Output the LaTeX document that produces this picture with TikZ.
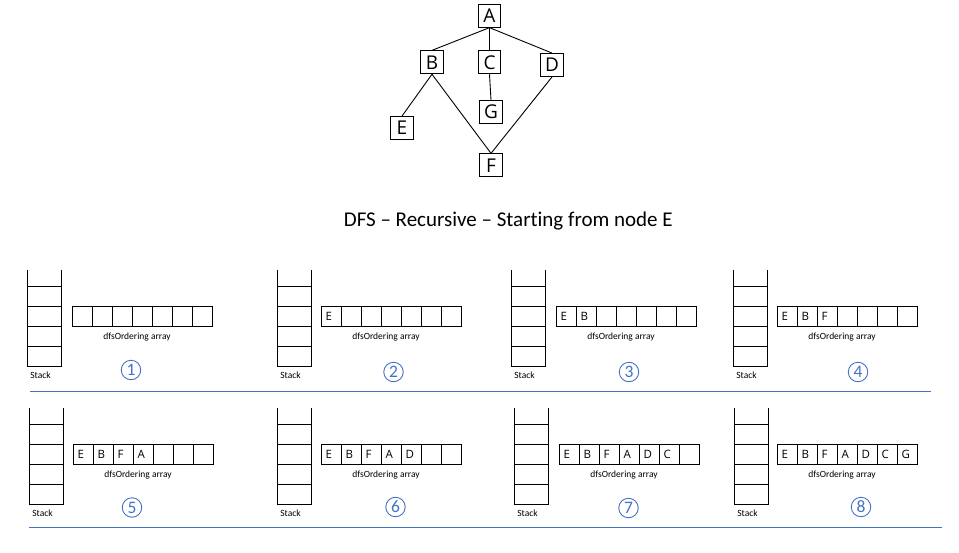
\documentclass[tikz,border=0pt]{standalone}
\usepackage{fontspec}
\setmainfont{Carlito}[Ligatures=NoCommon]
\newfontfamily\lettfont{Open Sans}
\definecolor{numblue}{HTML}{4472C4}
\tikzset{
  thinline/.style={draw=black,line width=0.9pt},
  gnode/.style={draw=black,line width=0.9pt,minimum width=22.5pt,minimum height=23pt,inner sep=0pt,font=\lettfont\fontsize{19}{22}\selectfont},
  gedge/.style={draw=black,line width=0.9pt},
  cellletter/.style={anchor=west,inner sep=0pt,font=\lettfont\fontsize{11.5}{13}\selectfont},
  arrlabel/.style={inner sep=0pt,font=\fontsize{9.5}{11}\selectfont},
  stacklabel/.style={inner sep=0pt,font=\fontsize{9.5}{11}\selectfont},
  circnum/.style={circle,draw=numblue,line width=0.9pt,minimum size=19.5pt,inner sep=0pt,text=numblue,font=\fontsize{17.5}{20}\selectfont},
  sepline/.style={draw=numblue,line width=1pt},
}
% #1 id, #2 stack x, #3 top y, #4 array x, #5 entries, #6 number, #7 cx, #8 cy
\newcommand\dfspanel[8]{%
  \draw[thinline] (#2,#3) -- (#2,#3+96.5) -- (#2+34,#3+96.5) -- (#2+34,#3);
  \foreach \h in {16.5,36,56,76.5} \draw[thinline] (#2,#3+\h) -- (#2+34,#3+\h);
  \foreach \i in {0,...,6} \draw[thinline] (#4+20*\i,#3+36) rectangle +(20,20.5);
  \foreach \e [count=\k from 0] in {#5} \node[cellletter] (v#1-\k) at (#4+20*\k+4.5,#3+46) {\e};
  \node[arrlabel] (arr#1) at (#4+65,#3+67) {dfsOrdering array};
  \node[stacklabel] (stk#1) at (#2+13.5,#3+105) {Stack};
  \node[circnum] (num#1) at (#7,#8) {#6};
}
\begin{document}
\begin{tikzpicture}[x=1pt,y=-1pt]
\useasboundingbox (0,0) rectangle (959,552);
% graph
\node[gnode] (A) at (489.5,15.7) {A};
\node[gnode] (B) at (432,62.3) {B};
\node[gnode] (C) at (489.5,62.3) {C};
\node[gnode] (D) at (552,65) {D};
\node[gnode] (G) at (491,112) {G};
\node[gnode] (E) at (402,128) {E};
\node[gnode] (F) at (491,165.3) {F};
\draw[gedge] (A.south) -- (B.north);
\draw[gedge] (A.south) -- (C.north);
\draw[gedge] (A.south) -- (D.north);
\draw[gedge] (C.south) -- (G.north);
\draw[gedge] (B.south) -- (E.north);
\draw[gedge] (B.south) -- (F.north);
\draw[gedge] (D.south) -- (F.north);
% title
\node[inner sep=0pt,font=\fontsize{21}{25}\selectfont] (title) at (508.3,221.5) {DFS – Recursive – Starting from node E};
% panels
\dfspanel{1}{27}{270}{72}{}{1}{131}{370}
\dfspanel{2}{277}{270}{321}{E}{2}{393.5}{372}
\dfspanel{3}{511}{270}{556}{E,B}{3}{629}{372}
\dfspanel{4}{733}{270}{777}{E,B,F}{4}{858}{372}
\dfspanel{5}{29}{408}{73}{E,B,F,A}{5}{132}{507.5}
\dfspanel{6}{277}{408}{321}{E,B,F,A,D}{6}{395.5}{507}
\dfspanel{7}{514}{408}{559}{E,B,F,A,D,C}{7}{628.5}{508}
\dfspanel{8}{734}{408}{777}{E,B,F,A,D,C,G}{8}{861}{507}
% separators
\draw[sepline] (30,391) -- (931,391);
\draw[sepline] (29,527) -- (942,527);
\end{tikzpicture}
\end{document}
